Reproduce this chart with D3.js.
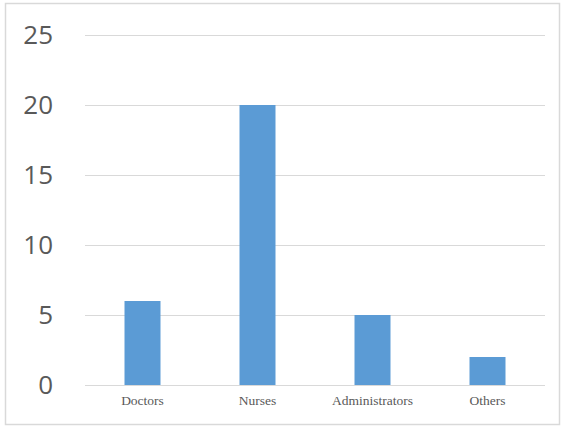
<!DOCTYPE html>
<html><head><meta charset="utf-8">
<script src="https://cdn.jsdelivr.net/npm/d3@7"></script>
<style>html,body{margin:0;padding:0;background:#fff;}</style>
</head><body>
<svg id="c" width="569" height="432"></svg>
<script>
const categories = ["Doctors", "Nurses", "Administrators", "Others"];
const values = [6, 20, 5, 2];
const yTicks = [0, 5, 10, 15, 20, 25];

(function () {
const svg = d3.select("#c");
svg.append("rect").attr("x", 5.5).attr("y", 3.5).attr("width", 554).attr("height", 421)
  .attr("fill", "#fff").attr("stroke", "#d9d9d9").attr("stroke-width", 1.5);

const mLeft = 85, mRight = 545, mTop = 35, mBottom = 385;
const x = d3.scaleBand().domain(categories).range([mLeft, mRight]).paddingInner(0.687).paddingOuter(0.3435);
const y = d3.scaleLinear().domain([0, 25]).range([mBottom, mTop]);

const yAxis = d3.axisLeft(y).tickValues(yTicks).tickSize(-(mRight - mLeft)).tickPadding(32);
const gy = svg.append("g").attr("transform", `translate(${mLeft},0)`).call(yAxis);
gy.select(".domain").remove();
gy.selectAll(".tick line").attr("stroke", "#d9d9d9").attr("stroke-width", 1);
gy.selectAll(".tick text").attr("fill", "#595959").attr("font-size", 26)
  .attr("font-family", "'Open Sans', 'Noto Sans', sans-serif");

svg.append("g").selectAll("rect").data(values).join("rect")
  .attr("x", (d, i) => x(categories[i]))
  .attr("y", d => y(d))
  .attr("width", x.bandwidth())
  .attr("height", d => y(0) - y(d))
  .attr("fill", "#5b9bd5");

const xAxis = d3.axisBottom(x).tickSize(0).tickPadding(10);
const gx = svg.append("g").attr("transform", `translate(0,${mBottom})`).call(xAxis);
gx.select(".domain").remove();
gx.selectAll(".tick text").attr("fill", "#595959").attr("font-size", 13.5)
  .attr("font-family", "'Liberation Serif', 'DejaVu Serif', serif");
})();
</script>
</body></html>
